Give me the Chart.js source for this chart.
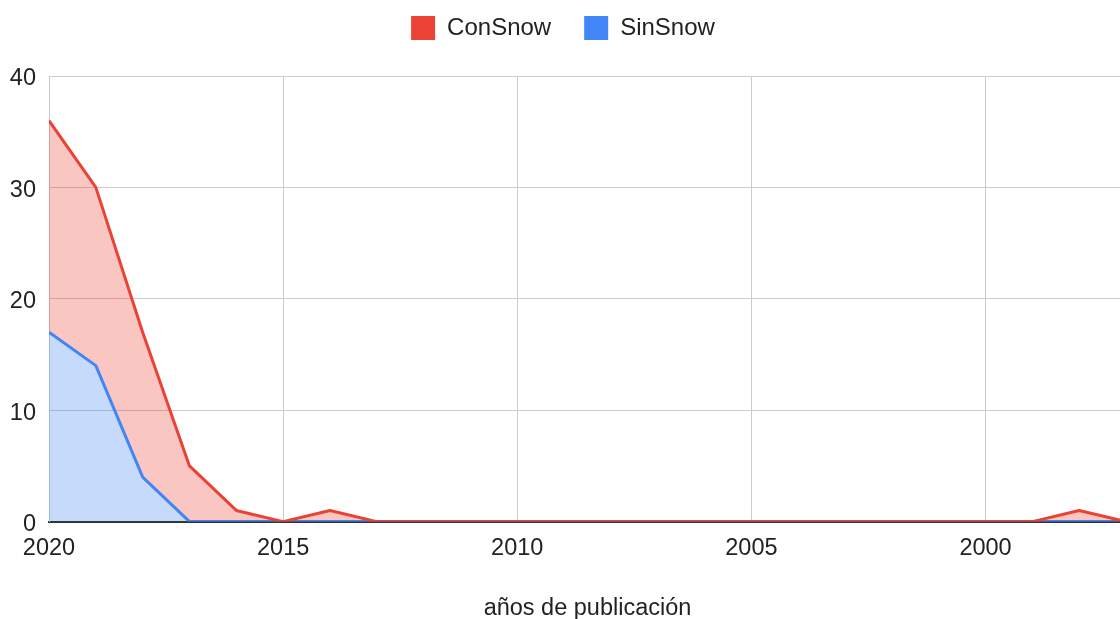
<!DOCTYPE html>
<html>
<head>
<meta charset="utf-8">
<script src="https://cdn.jsdelivr.net/npm/chart.js@4/dist/chart.umd.min.js"></script>
<style>
    html, body { margin: 0; padding: 0; overflow: hidden; background: #fff; }
    #wrap { width: 1126px; height: 619px; position: relative; }
</style>
</head>
<body>
<div id="wrap"><canvas id="chart"></canvas></div>
<script>
// Data
const years = [2020, 2019, 2018, 2017, 2016, 2015, 2014, 2013, 2012, 2011, 2010, 2009,
               2008, 2007, 2006, 2005, 2004, 2003, 2002, 2001, 2000, 1999, 1998, 1997];
const conSnow = [36, 30, 17, 5, 1, 0, 1, 0, 0, 0, 0, 0, 0, 0, 0, 0, 0, 0, 0, 0, 0, 0, 1, 0];
const sinSnow = [17, 14, 4, 0, 0, 0, 0, 0, 0, 0, 0, 0, 0, 0, 0, 0, 0, 0, 0, 0, 0, 0, 0, 0];
const yTicks = [0, 10, 20, 30, 40];
const xTitle = "años de publicación";

const FONT = "'Liberation Sans', Arial, sans-serif";

function toPoints(values) {
    return years.map((y, i) => ({ x: y, y: values[i] }));
}

// Extra room between legend and plot area
const legendGap = {
    id: 'legendGap',
    beforeInit(chart) {
        const origFit = chart.legend.fit;
        chart.legend.fit = function () {
            origFit.call(this);
            this.height += 26;
        };
    }
};

function initChart() {
    const ctx = document.getElementById('chart').getContext('2d');
    new Chart(ctx, {
        type: 'line',
        data: {
            datasets: [
                {
                    label: 'ConSnow',
                    data: toPoints(conSnow),
                    borderColor: '#ea4335',
                    backgroundColor: 'rgba(234, 67, 53, 0.3)',
                    borderWidth: 3,
                    fill: '+1'
                },
                {
                    label: 'SinSnow',
                    data: toPoints(sinSnow),
                    borderColor: '#4285f4',
                    backgroundColor: 'rgba(66, 133, 244, 0.3)',
                    borderWidth: 3,
                    fill: 'origin'
                }
            ]
        },
        options: {
            responsive: true,
            maintainAspectRatio: false,
            animation: false,
            elements: {
                point: { radius: 0, hoverRadius: 0 },
                line: { tension: 0, borderJoinStyle: 'round' }
            },
            layout: { padding: { left: 0, top: -17, right: 0, bottom: 0 } },
            plugins: {
                filler: { drawTime: 'beforeDatasetsDraw' },
                tooltip: { enabled: false },
                legend: {
                    position: 'top',
                    labels: {
                        font: { family: FONT, size: 24 },
                        color: '#222',
                        boxWidth: 24,
                        boxHeight: 24,
                        padding: 33,
                        generateLabels: (chart) => chart.data.datasets.map((ds, i) => ({
                            text: ds.label,
                            fillStyle: ds.borderColor,
                            strokeStyle: ds.borderColor,
                            lineWidth: 0,
                            fontColor: '#222',
                            datasetIndex: i
                        }))
                    }
                }
            },
            scales: {
                x: {
                    type: 'linear',
                    reverse: true,
                    min: years[years.length - 1],
                    max: years[0],
                    grid: { color: '#cccccc', lineWidth: 1, drawTicks: false },
                    border: { color: '#333333', width: 2 },
                    ticks: {
                        stepSize: 5,
                        includeBounds: false,
                        padding: 13,
                        maxRotation: 0,
                        color: '#222',
                        font: { family: FONT, size: 23.5 },
                        callback: (v) => String(v)
                    },
                    title: {
                        display: true,
                        text: xTitle,
                        color: '#222',
                        font: { family: FONT, size: 23.5 },
                        padding: { top: 19, bottom: -4 }
                    }
                },
                y: {
                    min: yTicks[0],
                    max: yTicks[yTicks.length - 1],
                    afterBuildTicks: (scale) => {
                        scale.ticks = yTicks.map(v => ({ value: v }));
                    },
                    afterFit: (scale) => {
                        scale.width = 49;
                    },
                    grid: { color: '#cccccc', lineWidth: 1, drawTicks: false },
                    border: { color: '#cccccc', width: 1 },
                    ticks: {
                        padding: 13,
                        labelOffset: 3,
                        color: '#222',
                        font: { family: FONT, size: 23.5 }
                    }
                }
            }
        },
        plugins: [legendGap]
    });
}

window.onload = initChart;
</script>
</body>
</html>
